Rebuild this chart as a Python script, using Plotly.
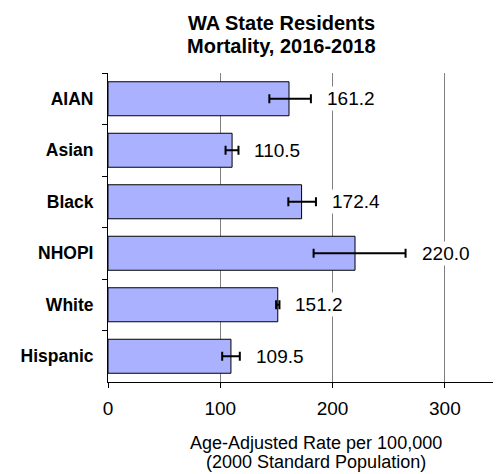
import plotly.graph_objects as go

categories = ["AIAN", "Asian", "Black", "NHOPI", "White", "Hispanic"]
rates = [161.2, 110.5, 172.4, 220.0, 151.2, 109.5]
err_minus = [17.5, 5.8, 11.8, 36.9, 1.5, 7.8]
err_plus = [19.5, 5.7, 12.8, 45.0, 1.5, 7.9]
x_ticks = [0, 100, 200, 300]
title_lines = ["WA State Residents", "Mortality, 2016-2018"]
xtitle_lines = ["Age-Adjusted Rate per 100,000", "(2000 Standard Population)"]

font_family = "Liberation Sans, Arial, sans-serif"

fig = go.Figure()
fig.add_trace(go.Bar(
    y=categories, x=rates, orientation="h",
    width=0.66,
    marker=dict(color="#AAB2FF", line=dict(color="black", width=1)),
    error_x=dict(type="data", symmetric=False, array=err_plus, arrayminus=err_minus,
                 color="black", thickness=2, width=4.5),
    showlegend=False, hoverinfo="skip",
))

for c, v, p in zip(categories, rates, err_plus):
    fig.add_annotation(x=v + p, y=c, xref="x", yref="y", text=f"{v:.1f}",
                       showarrow=False, xanchor="left", xshift=14,
                       bgcolor="white", borderpad=1,
                       font=dict(family=font_family, size=19, color="black"))

for txt, yy in zip(title_lines, [1.1618, 1.0874]):
    fig.add_annotation(x=0.4427, y=yy, xref="paper", yref="paper", text=f"<b>{txt}</b>",
                       showarrow=False, xanchor="center", yanchor="middle",
                       font=dict(family=font_family, size=20, color="black"))

for txt, yy in zip(xtitle_lines, [-0.1990, -0.2589]):
    fig.add_annotation(x=0.5305, y=yy, xref="paper", yref="paper", text=txt,
                       showarrow=False, xanchor="center", yanchor="middle",
                       font=dict(family=font_family, size=18, color="black"))

fig.update_layout(
    width=501, height=474,
    margin=dict(l=100, r=8, t=65, b=100),
    paper_bgcolor="white", plot_bgcolor="white",
    font=dict(family=font_family, color="black"),
    xaxis=dict(
        range=[0, 350], tickvals=x_ticks, ticktext=[str(t) for t in x_ticks],
        showgrid=True, gridcolor="#808080", gridwidth=1,
        showline=True, linecolor="black", linewidth=1,
        ticks="outside", ticklen=5, tickcolor="black",
        tickfont=dict(size=19, family=font_family),
        zeroline=False, ticklabelstandoff=4,
    ),
    yaxis=dict(
        categoryorder="array", categoryarray=categories, autorange="reversed",
        showline=True, linecolor="black", linewidth=1,
        ticks="outside", ticklen=5, tickcolor="black", tickson="boundaries",
        tickfont=dict(size=17.5, family=font_family, weight="bold"),
        showgrid=False, ticklabelstandoff=10,
    ),
)

fig.write_html("out.html")
